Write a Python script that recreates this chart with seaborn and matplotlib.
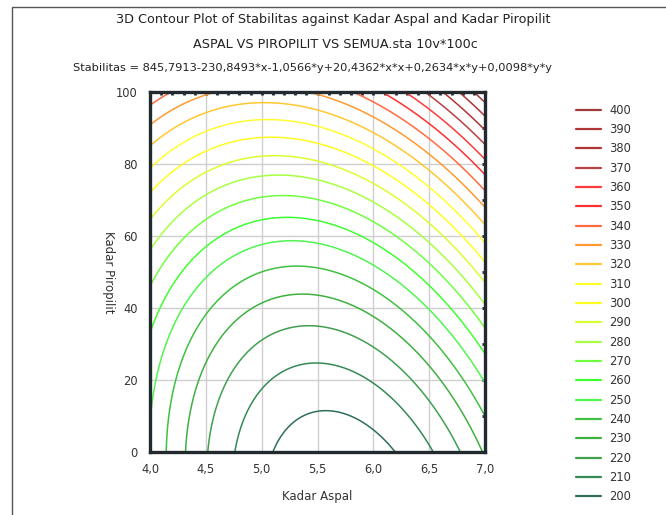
import numpy as np
import matplotlib
matplotlib.use("Agg")
import matplotlib.pyplot as plt
import seaborn as sns
from matplotlib.lines import Line2D
from matplotlib.patches import Rectangle
from matplotlib.ticker import MultipleLocator, FuncFormatter

# fitted surface printed on the chart:
# Stabilitas = b0 + b1*x + b2*y + b11*x*x + b12*x*y + b22*y*y
coef_names = ["b0", "b1", "b2", "b11", "b12", "b22"]
coef_values = [845.7913, -230.8493, -1.0566, 20.4362, 0.2634, 0.0098]

x_range = [4.0, 7.0]     # Kadar Aspal
y_range = [0.0, 100.0]   # Kadar Piropilit

levels = [200, 210, 220, 230, 240, 250, 260, 270, 280, 290, 300,
          310, 320, 330, 340, 350, 360, 370, 380, 390, 400]
level_colors = ["#2f6f55", "#358a55", "#40a050", "#40b040", "#40c040",
                "#50f550", "#40ff30", "#70ff40", "#a8ff40", "#d8ff30",
                "#ffff20", "#ffff30", "#ffc830", "#ff9a30", "#ff6a40",
                "#ff3030", "#ff3a3a", "#b84040", "#b03535", "#b03535",
                "#a03a3a"]

sns.set_style("white")
plt.rcParams["font.family"] = ["DejaVu Sans"]

b = dict(zip(coef_names, coef_values))
xs = np.linspace(x_range[0], x_range[1], 400)
ys = np.linspace(y_range[0], y_range[1], 400)
X, Y = np.meshgrid(xs, ys)
Z = (b["b0"] + b["b1"] * X + b["b2"] * Y + b["b11"] * X * X
     + b["b12"] * X * Y + b["b22"] * Y * Y)

fig = plt.figure(figsize=(6.66, 5.15), dpi=100)
fig.patches.append(Rectangle((12 / 666, -0.01), 1.0, 1 - 7 / 515 + 0.01,
                             transform=fig.transFigure, facecolor="white",
                             edgecolor="#555555", lw=1.0, zorder=-1))

ax = fig.add_axes([150 / 666, 1 - 452 / 515, 335 / 666, 360 / 515])
ax.contour(X, Y, Z, levels=levels, colors=level_colors, linewidths=1.1)

ax.set_xlim(x_range)
ax.set_ylim(y_range)
ax.xaxis.set_major_locator(MultipleLocator(0.5))
ax.xaxis.set_minor_locator(MultipleLocator(0.1))
ax.yaxis.set_major_locator(MultipleLocator(20))
ax.yaxis.set_minor_locator(MultipleLocator(10))
ax.xaxis.set_major_formatter(FuncFormatter(lambda v, p: f"{v:.1f}".replace(".", ",")))
ax.grid(True, which="major", color="#cfcfcf", lw=1.0)
ax.set_axisbelow(True)
ax.tick_params(which="both", direction="in", length=2.5, width=2,
               color="#222a30", top=True, right=True, labelsize=8.3,
               labelcolor="#333333")
ax.tick_params(axis="x", pad=8)
ax.tick_params(axis="y", pad=9)
for s in ax.spines.values():
    s.set_linewidth(2.4)
    s.set_color("#222a30")

ax.set_xlabel("Kadar Aspal", fontsize=8.5, color="#333333", labelpad=10)
ax.set_ylabel("Kadar Piropilit", fontsize=8.5, color="#333333",
              rotation=-90, labelpad=5, va="center")

fig.text(333 / 666, 1 - 20 / 515,
         "3D Contour Plot of Stabilitas against Kadar Aspal and Kadar Piropilit",
         ha="center", va="center", fontsize=9.2, color="#222222")
fig.text(335 / 666, 1 - 45 / 515, "ASPAL VS PIROPILIT VS SEMUA.sta 10v*100c",
         ha="center", va="center", fontsize=9.2, color="#222222")
fig.text(73 / 666, 1 - 68 / 515,
         "Stabilitas = 845,7913-230,8493*x-1,0566*y+20,4362*x*x+0,2634*x*y+0,0098*y*y",
         ha="left", va="center", fontsize=8.2, color="#222222")

handles = [Line2D([], [], color=c, lw=1.6) for c in level_colors[::-1]]
labels = [str(v) for v in levels[::-1]]
fig.legend(handles, labels, loc="upper left",
           bbox_to_anchor=(571 / 666, 1 - 99 / 515), frameon=False,
           fontsize=8.3, handlelength=2.2, handletextpad=0.7,
           labelspacing=0.55, borderaxespad=0, labelcolor="#333333")

fig.savefig("out.png", dpi=100)
